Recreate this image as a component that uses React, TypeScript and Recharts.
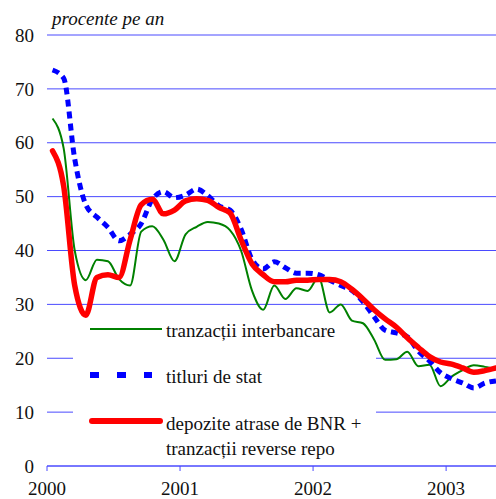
import React from "react"
import { CartesianGrid, Line, LineChart, XAxis, YAxis } from "recharts"

// monthly observations, Jan 2000 .. May 2003
const months = [
  "2000-01", "2000-02", "2000-03", "2000-04", "2000-05", "2000-06", "2000-07", "2000-08", "2000-09", "2000-10", "2000-11", "2000-12",
  "2001-01", "2001-02", "2001-03", "2001-04", "2001-05", "2001-06", "2001-07", "2001-08", "2001-09", "2001-10", "2001-11", "2001-12",
  "2002-01", "2002-02", "2002-03", "2002-04", "2002-05", "2002-06", "2002-07", "2002-08", "2002-09", "2002-10", "2002-11", "2002-12",
  "2003-01", "2003-02", "2003-03", "2003-04", "2003-05",
]

const interbancare = [
  64.5, 59, 40, 34.5, 38.3, 38, 34.7, 33.5, 43.5, 44.5, 42, 38,
  43, 44.4, 45.3, 45, 43.8, 40, 32.5, 29, 33.5, 31, 33, 32.5,
  35, 28.5, 30, 27, 26.5, 23.5, 19.7, 19.8, 21.2, 18.5, 18.8, 14.8,
  16.6, 17.8, 18.7, 18.4, 18,
]

const titluri = [
  73.5, 72, 57, 48.5, 46.2, 44.3, 41.8, 43, 45, 49.5, 50.9, 49.8,
  50.3, 51.4, 50.2, 48.3, 47.5, 44, 38.3, 36.6, 37.9, 36.8, 35.8, 35.8,
  35.5, 34.5, 33.5, 32.6, 30.5, 27.7, 25.2, 24.7, 24, 21.3, 19.5, 17.3,
  16.2, 15.4, 14.5, 15.4, 15.8,
]

const depozite = [
  58.5, 52, 33.5, 28, 35, 35.5, 35, 42, 48.5, 49.5, 46.8, 47.5,
  49.2, 49.6, 49.3, 48, 47, 42, 37.5, 35.5, 34.2, 34.2, 34.5, 34.5,
  34.6, 34.6, 34.2, 32.8, 31, 29, 27.3, 25.8, 23.8, 22, 20.3, 19.3,
  18.9, 18.2, 17.4, 17.7, 18.2,
]

const years = ["2000", "2001", "2002", "2003"]
const yTicks = [0, 10, 20, 30, 40, 50, 60, 70, 80]

// t = months since Jan 2000, observation dated mid-month
const data = months.map((m, i) => ({
  month: m,
  t: i + 0.5,
  interbancare: interbancare[i],
  titluri: titluri[i],
  depozite: depozite[i],
}))

const GRID = "#4a4aff"
const FONT = "Liberation Serif, DejaVu Serif, Times New Roman, serif"

// gridlines are hidden behind the legend box
const gridLine = (props: any) => {
  const { x1, x2, y1 } = props
  if (y1 > 310 && y1 < 460) {
    return (
      <g>
        <line x1={x1} x2={73} y1={y1} y2={y1} stroke={GRID} strokeWidth={1} />
        <line x1={376} x2={x2} y1={y1} y2={y1} stroke={GRID} strokeWidth={1} />
      </g>
    )
  }
  return <line x1={x1} x2={x2} y1={y1} y2={y1} stroke={GRID} strokeWidth={1} />
}

const textStyle = { fontFamily: FONT, fontSize: 19 }

export default function App() {
  return (
    <div style={{ position: "absolute", left: 0, top: 0, width: 496, height: 499, background: "#fff", fontFamily: FONT }}>
      <LineChart width={496} height={499} data={data} margin={{ top: 35, right: 0, bottom: 0, left: 0 }}>
        <CartesianGrid vertical={false} horizontal={gridLine} />
        <XAxis
          dataKey="t"
          type="number"
          domain={[0, 40.5]}
          ticks={[0, 12, 24, 36]}
          tickFormatter={(v) => years[Math.round(v / 12)]}
          height={33}
          stroke={GRID}
          tickSize={5}
          tickMargin={11}
          tick={{ fill: "#111", style: textStyle }}
          allowDataOverflow
        />
        <YAxis
          domain={[0, 80]}
          ticks={yTicks}
          width={47}
          axisLine={false}
          tickLine={false}
          tickSize={0}
          tickMargin={13}
          tick={{ fill: "#111", style: textStyle }}
        />
        <Line
          dataKey="interbancare"
          type="monotone"
          stroke="#008000"
          strokeWidth={2}
          dot={false}
          isAnimationActive={false}
        />
        <Line
          dataKey="titluri"
          type="monotone"
          stroke="#0000ff"
          strokeWidth={5}
          strokeDasharray="7 5"
          dot={false}
          isAnimationActive={false}
        />
        <Line
          dataKey="depozite"
          type="monotone"
          stroke="#ff0000"
          strokeWidth={5.5}
          strokeLinecap="round"
          dot={false}
          isAnimationActive={false}
        />
      </LineChart>
      <svg
        width={496}
        height={499}
        style={{ position: "absolute", left: 0, top: 0, pointerEvents: "none", ...textStyle }}
        fill="#111"
      >
        <text x={52} y={25} fontStyle="italic">procente pe an</text>
        <line x1={90} x2={162} y1={329} y2={329} stroke="#008000" strokeWidth={2} />
        <text x={166} y={337}>tranzacții interbancare</text>
        <line x1={88} x2={152} y1={375} y2={375} stroke="#0000ff" strokeWidth={6} strokeDasharray="9 18" strokeDashoffset={-2} />
        <text x={166} y={383}>titluri de stat</text>
        <line x1={92} x2={160} y1={421} y2={421} stroke="#ff0000" strokeWidth={6} strokeLinecap="round" />
        <text x={166} y={430}>depozite atrase de BNR +</text>
        <text x={166} y={455}>tranzacții reverse repo</text>
      </svg>
    </div>
  )
}
